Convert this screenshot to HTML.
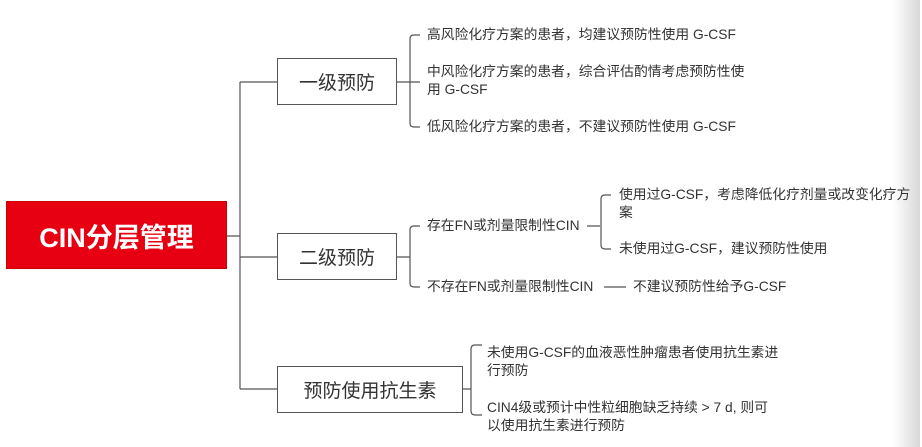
<!DOCTYPE html>
<html><head><meta charset="utf-8"><style>
body{margin:0;width:922px;height:447px;position:relative;background:#fff;overflow:hidden;font-family:"Liberation Sans","Noto Sans CJK SC",sans-serif;color:#333}
.t{position:absolute;font-size:13.8px;line-height:18px;white-space:nowrap}
.box{position:absolute;border:1px solid #555;background:#fff;box-sizing:border-box;font-size:19px;display:flex;align-items:center;justify-content:center;color:#333}
.grad{position:absolute;left:893px;top:0;width:27px;height:447px;background:linear-gradient(to right,#fff,#d8d8d8)}
</style></head><body>
<div class="grad"></div>
<svg width="922" height="447" style="position:absolute;left:0;top:0" fill="none" stroke="#555" stroke-width="1.2">
<path d="M227 236H240M240 82V389M240 82H277M240 257H277M240 389H277"/>
<path d="M396 82H420M420 35H414Q410 35 410 39V123Q410 127 414 127H420"/>
<path d="M396 257H410M420 226H414Q410 226 410 230V283Q410 287 414 287H420"/>
<path d="M587 226H600M611 195H605Q601 195 601 199V245Q601 249 605 249H611"/>
<path d="M604 287H626"/>
<path d="M462 389H471M482 345H475Q471 345 471 349V411Q471 415 475 415H482"/>
</svg>
<div class="box" style="left:6px;top:201px;width:221px;height:68px;background:#e60012;border-color:#c00;color:#fff;font-size:27px;font-weight:bold">CIN分层管理</div>
<div class="box" style="left:277px;top:58px;width:120px;height:47px">一级预防</div>
<div class="box" style="left:277px;top:233px;width:120px;height:47px">二级预防</div>
<div class="box" style="left:277px;top:366px;width:186px;height:47px">预防使用抗生素</div>
<div class="t" style="left:427px;top:26px">高风险化疗方案的患者，均建议预防性使用 G-CSF</div>
<div class="t" style="left:427px;top:63px">中风险化疗方案的患者，综合评估酌情考虑预防性使<br>用 G-CSF</div>
<div class="t" style="left:427px;top:118px">低风险化疗方案的患者，不建议预防性使用 G-CSF</div>
<div class="t" style="left:427px;top:217px">存在FN或剂量限制性CIN</div>
<div class="t" style="left:427px;top:278px">不存在FN或剂量限制性CIN</div>
<div class="t" style="left:619px;top:186px">使用过G-CSF，考虑降低化疗剂量或改变化疗方<br>案</div>
<div class="t" style="left:619px;top:240px">未使用过G-CSF，建议预防性使用</div>
<div class="t" style="left:633px;top:278px">不建议预防性给予G-CSF</div>
<div class="t" style="left:487px;top:344px">未使用G-CSF的血液恶性肿瘤患者使用抗生素进<br>行预防</div>
<div class="t" style="left:487px;top:399px">CIN4级或预计中性粒细胞缺乏持续 &gt; 7 d, 则可<br>以使用抗生素进行预防</div>
</body></html>
